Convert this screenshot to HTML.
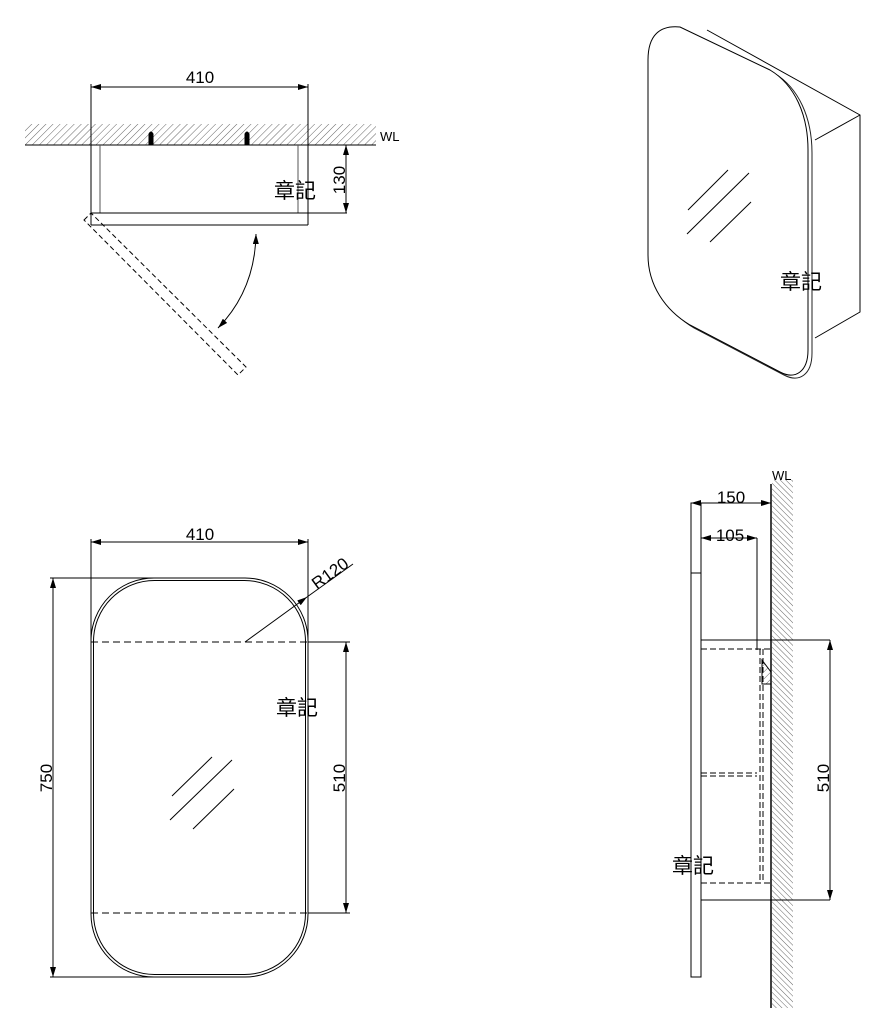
<!DOCTYPE html>
<html><head><meta charset="utf-8"><style>html,body{margin:0;padding:0;background:#fff}svg{display:block}text{font-family:"Liberation Sans","Noto Sans CJK TC",sans-serif;fill:#000}</style></head>
<body>
<svg width="875" height="1017" viewBox="0 0 875 1017" xmlns="http://www.w3.org/2000/svg">
<defs>
<pattern id="h1" patternUnits="userSpaceOnUse" width="5" height="5" patternTransform="rotate(45)"><line x1="0" y1="0" x2="0" y2="5" stroke="#666" stroke-width="1"/></pattern>
<pattern id="h2" patternUnits="userSpaceOnUse" width="4" height="4" patternTransform="rotate(-45)"><line x1="0" y1="0" x2="0" y2="4" stroke="#666" stroke-width="1"/></pattern>
<marker id="a" viewBox="0 0 10 6" refX="10" refY="3" markerWidth="10" markerHeight="6" orient="auto-start-reverse" markerUnits="userSpaceOnUse"><path d="M0,0 L10,3 L0,6 Z" fill="#000"/></marker>
</defs>
<g fill="none" stroke="#000" stroke-width="1">
<!-- TOP LEFT -->
<rect x="25" y="124" width="351" height="21" fill="url(#h1)" stroke="none"/>
<line x1="25" y1="145" x2="376" y2="145"/>
<line x1="91" y1="87" x2="308" y2="87" marker-start="url(#a)" marker-end="url(#a)"/>
<line x1="91" y1="84" x2="91" y2="225"/>
<line x1="308" y1="84" x2="308" y2="225"/>
<line x1="91" y1="225" x2="308" y2="225"/>
<line x1="100" y1="145" x2="100" y2="213" stroke="#555"/>
<line x1="298" y1="145" x2="298" y2="213" stroke="#555"/>
<line x1="91" y1="213" x2="347" y2="213"/>
<line x1="346" y1="145" x2="346" y2="213" marker-start="url(#a)" marker-end="url(#a)"/>
<path d="M149,145 V134 Q151,130 153,134 V145 Z M245,145 V134 Q247,130 249,134 V145 Z" fill="#000"/>
<path d="M84,220 L91,213 L246,367 L238,375 Z" stroke-dasharray="5,3"/>
<path d="M256,234 Q255,290 218,328" marker-start="url(#a)" marker-end="url(#a)"/>
<!-- TOP RIGHT -->
<path d="M707,30 L860,115 L860,312 L815,338"/>
<line x1="815" y1="140" x2="860" y2="115"/>
<path d="M652,63 C652,38 664,28 684,30 L774,73 C799,88 812,118 812,153 L812,353 C812,375 799,383 784,375 L694,328 C669,313 652,288 652,258 Z" stroke="#222"/>
<path d="M648,60 C648,35 660,25 680,27 L770,70 C795,85 808,115 808,150 L808,350 C808,372 795,380 780,372 L690,325 C665,310 648,285 648,255 Z" fill="#fff"/>
<line x1="688" y1="210" x2="728" y2="170"/>
<line x1="687" y1="234" x2="749" y2="173"/>
<line x1="710" y1="242" x2="751" y2="202"/>
<!-- BOTTOM LEFT -->
<line x1="91" y1="542" x2="308" y2="542" marker-start="url(#a)" marker-end="url(#a)"/>
<line x1="91" y1="539" x2="91" y2="640"/>
<line x1="308" y1="539" x2="308" y2="640"/>
<rect x="91" y="578" width="217" height="399" rx="63"/>
<rect x="93.5" y="580.5" width="212" height="394" rx="61"/>
<line x1="91" y1="642" x2="308" y2="642" stroke-dasharray="7,4"/>
<line x1="91" y1="913" x2="308" y2="913" stroke-dasharray="7,4"/>
<line x1="50" y1="578" x2="155" y2="578"/>
<line x1="50" y1="977" x2="155" y2="977"/>
<line x1="53" y1="578" x2="53" y2="977" marker-start="url(#a)" marker-end="url(#a)"/>
<line x1="308" y1="642" x2="350" y2="642"/>
<line x1="308" y1="913" x2="350" y2="913"/>
<line x1="346" y1="642" x2="346" y2="913" marker-start="url(#a)" marker-end="url(#a)"/>
<line x1="245" y1="642" x2="307" y2="597" marker-end="url(#a)"/>
<line x1="307" y1="597" x2="353" y2="564"/>
<line x1="172" y1="796" x2="212" y2="757"/>
<line x1="170" y1="820" x2="232" y2="760"/>
<line x1="193" y1="829" x2="234" y2="789"/>
<!-- BOTTOM RIGHT -->
<rect x="772" y="480" width="21" height="528" fill="url(#h2)" stroke="none"/>
<line x1="771" y1="484" x2="771" y2="1008" stroke-width="1.5"/>
<line x1="691" y1="503" x2="771" y2="503" marker-start="url(#a)" marker-end="url(#a)"/>
<line x1="701" y1="538" x2="757" y2="538" marker-start="url(#a)" marker-end="url(#a)"/>
<rect x="691" y="503" width="10" height="474"/>
<line x1="691" y1="573" x2="701" y2="573"/>
<line x1="757" y1="538" x2="757" y2="650"/>
<line x1="701" y1="640" x2="830" y2="640"/>
<line x1="701" y1="900" x2="830" y2="900"/>
<line x1="830" y1="640" x2="830" y2="900" marker-start="url(#a)" marker-end="url(#a)"/>
<g stroke-dasharray="6,3">
<line x1="701" y1="649" x2="771" y2="649"/>
<line x1="701" y1="883" x2="771" y2="883"/>
<line x1="701" y1="773" x2="757" y2="773"/>
<line x1="701" y1="776" x2="757" y2="776"/>
<line x1="760" y1="649" x2="760" y2="883"/>
<line x1="763" y1="649" x2="763" y2="883"/>
</g>
<path d="M762,660 L771,672 L771,684 L762,684 Z" fill="url(#h1)"/>
</g>
<g font-size="17">
<text x="200" y="83" text-anchor="middle">410</text>
<text x="380" y="141" font-size="13">WL</text>
<text transform="translate(345,180) rotate(-90)" text-anchor="middle">130</text>
<text x="274" y="198" font-size="21">章記</text>
<text x="780" y="289" font-size="21">章記</text>
<text x="200" y="540" text-anchor="middle">410</text>
<text transform="translate(317,590) rotate(-36)">R120</text>
<text x="276" y="715" font-size="21">章記</text>
<text transform="translate(52,778) rotate(-90)" text-anchor="middle">750</text>
<text transform="translate(345,778) rotate(-90)" text-anchor="middle">510</text>
<text x="772" y="480" font-size="13">WL</text>
<text x="731" y="503" text-anchor="middle">150</text>
<text x="730" y="541" text-anchor="middle">105</text>
<text transform="translate(829,778) rotate(-90)" text-anchor="middle">510</text>
<text x="672" y="873" font-size="21">章記</text>
</g>
</svg>
</body></html>
